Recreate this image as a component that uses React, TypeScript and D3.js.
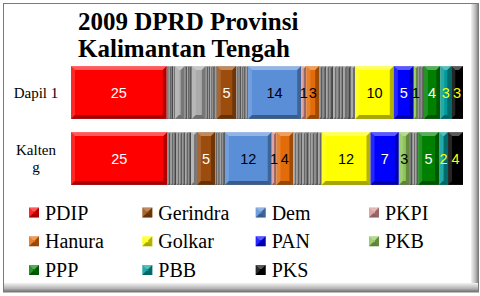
import React from "react";
import * as d3 from "d3";

const titleLines = ["2009 DPRD Provinsi", "Kalimantan Tengah"];
const categories = ["Dapil 1", "Kalteng"];
const categoryLabelLines = [["Dapil 1"], ["Kalten", "g"]];
const legendParties = ["PDIP", "Gerindra", "Dem", "PKPI", "Hanura", "Golkar", "PAN", "PKB", "PPP", "PBB", "PKS"];

// [party, vote share %]; "Lain" = other (unlabelled) parties
const dapil1: [string, number][] = [
  ["PDIP", 24.5],
  ["Lain", 0.5], ["Lain", 0.6], ["Lain", 0.5], ["Lain", 0.5], ["Lain", 2.5], ["Lain", 0.6], ["Lain", 0.5],
  ["Lain", 0.7], ["Lain", 3.6], ["Lain", 0.6], ["Lain", 0.5], ["Lain", 0.6], ["Lain", 0.6], ["Lain", 0.5],
  ["Gerindra", 5.0],
  ["Lain", 0.6], ["Lain", 0.6], ["Lain", 0.6], ["Lain", 0.6], ["Lain", 0.6],
  ["Dem", 13.6],
  ["PKPI", 1.3],
  ["Hanura", 3.3],
  ["Lain", 0.9], ["Lain", 0.9], ["Lain", 0.8], ["Lain", 1.0], ["Lain", 0.9], ["Lain", 0.9], ["Lain", 0.8],
  ["Lain", 0.9], ["Lain", 1.0], ["Lain", 1.1],
  ["Golkar", 9.9],
  ["PAN", 5.1],
  ["PKB", 1.1],
  ["Lain", 0.7], ["Lain", 0.8],
  ["PPP", 4.2],
  ["PBB", 2.8],
  ["PKS", 3.0],
];

const kalteng: [string, number][] = [
  ["PDIP", 24.5],
  ["Lain", 0.8], ["Lain", 0.7], ["Lain", 0.8], ["Lain", 0.7], ["Lain", 0.8], ["Lain", 0.7], ["Lain", 0.8],
  ["Lain", 0.7], ["Lain", 1.5],
  ["Gerindra", 4.6],
  ["Lain", 0.6], ["Lain", 0.6], ["Lain", 0.7], ["Lain", 0.6],
  ["Dem", 11.9],
  ["PKPI", 1.2],
  ["Hanura", 4.3],
  ["Lain", 0.8], ["Lain", 0.8], ["Lain", 0.7], ["Lain", 0.8], ["Lain", 0.8], ["Lain", 0.7], ["Lain", 0.8],
  ["Lain", 0.9], ["Lain", 0.9],
  ["Golkar", 12.4],
  ["PAN", 7.2],
  ["PKB", 2.8],
  ["Lain", 0.7], ["Lain", 0.7], ["Lain", 0.7],
  ["PPP", 5.3],
  ["PBB", 2.3],
  ["PKS", 3.8],
];

const rows = [dapil1, kalteng];

const partyColor: Record<string, string> = {
  PDIP: "#ff0000",
  Gerindra: "#9c4c0c",
  Dem: "#5a8ed6",
  PKPI: "#d99694",
  Hanura: "#e36c0a",
  Golkar: "#ffff00",
  PAN: "#0000ff",
  PKB: "#8fc65a",
  PPP: "#008000",
  PBB: "#009a9a",
  PKS: "#000000",
};
const labelColor: Record<string, string> = {
  PDIP: "#ffffff",
  Gerindra: "#ffffff",
  Dem: "#000000",
  PKPI: "#000000",
  Hanura: "#000000",
  Golkar: "#000000",
  PAN: "#ffffff",
  PKB: "#000000",
  PPP: "#ffffff",
  PBB: "#ffff00",
  PKS: "#ffff00",
};
const grayShades = ["#7a7a7a", "#939393", "#656565", "#9c9c9c", "#838383"];

const W = 480;
const H = 296;

function Bevel({ x, y, w, h, fill }: { x: number; y: number; w: number; h: number; fill: string }) {
  const b = Math.max(0, Math.min(4, w / 2, h / 2));
  const p = (pts: number[][]) => pts.map((q) => q.join(",")).join(" ");
  return (
    <g>
      <rect x={x} y={y} width={w} height={h} fill={fill} />
      <polygon points={p([[x, y], [x + w, y], [x + w - b, y + b], [x + b, y + b]])} fill="#fff" opacity={0.35} />
      <polygon points={p([[x, y], [x + b, y + b], [x + b, y + h - b], [x, y + h]])} fill="#fff" opacity={0.15} />
      <polygon points={p([[x + w, y], [x + w, y + h], [x + w - b, y + h - b], [x + w - b, y + b]])} fill="#000" opacity={0.3} />
      <polygon points={p([[x, y + h], [x + w, y + h], [x + w - b, y + h - b], [x + b, y + h - b]])} fill="#000" opacity={0.35} />
    </g>
  );
}

export default function App() {
  const y = d3.scaleBand<string>().domain(categories).range([59.5, 191.5]).paddingInner(0.2).paddingOuter(0.1);
  const x0 = 71;
  const x1 = 463;

  const serif = "'Liberation Serif', 'Times New Roman', serif";
  const sans = "'Liberation Sans', Arial, sans-serif";

  const legendX = d3.scalePoint<number>().domain([0, 1, 2, 3]).range([29, 369]);
  const legendY = d3.scalePoint<number>().domain([0, 1, 2]).range([212.5, 270]);

  return (
    <svg width={W} height={H} style={{ position: "absolute", left: 0, top: 0, display: "block", background: "#fff" }}>
      <defs>
        <linearGradient id="shR" x1="0" x2="1" y1="0" y2="0">
          <stop offset="0" stopColor="#f2f2f2" />
          <stop offset="0.6" stopColor="#b5b5b5" />
          <stop offset="1" stopColor="#6e6e6e" />
        </linearGradient>
        <linearGradient id="shB" x1="0" x2="0" y1="0" y2="1">
          <stop offset="0" stopColor="#f2f2f2" />
          <stop offset="0.6" stopColor="#b5b5b5" />
          <stop offset="1" stopColor="#6e6e6e" />
        </linearGradient>
      </defs>
      <rect x={0} y={0} width={W} height={H} fill="#fff" />
      {/* frame */}
      <rect x={471} y={4} width={8} height={288} fill="url(#shR)" />
      <rect x={4} y={283} width={475} height={9} fill="url(#shB)" />
      <rect x={3.5} y={3.5} width={475} height={288.5} fill="none" stroke="#7a7a7a" strokeWidth={1} />

      {/* title */}
      <text x={78} fontFamily={serif} fontWeight="bold" fontSize={25} fill="#000">
        {titleLines.map((t, i) => (
          <tspan key={i} x={78} y={30 + i * 27}>{t}</tspan>
        ))}
      </text>

      {/* bars */}
      {rows.map((row, ri) => {
        const cat = categories[ri];
        const total = d3.sum(row, (d) => d[1]);
        const xs = d3.scaleLinear().domain([0, total]).range([x0, x1]);
        const cum = d3.cumsum(row, (d) => d[1]);
        const by = y(cat) as number;
        const bh = y.bandwidth();
        let g = 0;
        return (
          <g key={cat}>
            {row.map(([party, v], i) => {
              const start = i === 0 ? 0 : cum[i - 1];
              const xa = xs(start);
              const xb = xs(start + v);
              let fill = partyColor[party];
              if (!fill) {
                fill = v >= 1.4 ? "#ababab" : grayShades[g % grayShades.length];
                g++;
              }
              return <Bevel key={i} x={xa} y={by} w={xb - xa} h={bh} fill={fill} />;
            })}
            {row.map(([party, v], i) => {
              if (!partyColor[party]) return null;
              const start = i === 0 ? 0 : cum[i - 1];
              const cx = (xs(start) + xs(start + v)) / 2;
              return (
                <text key={"l" + i} x={cx} y={by + bh / 2 + 5.5} textAnchor="middle" fontFamily={sans} fontSize={14.5} fill={labelColor[party]}>
                  {Math.round(v)}
                </text>
              );
            })}
            <text fontFamily={serif} fontSize={15} textAnchor="middle" fill="#000">
              {categoryLabelLines[ri].map((t, k) => {
                const n = categoryLabelLines[ri].length;
                return (
                  <tspan key={k} x={36} y={by + bh / 2 + 5 - ((n - 1) * 16.5) / 2 + k * 16.5}>{t}</tspan>
                );
              })}
            </text>
          </g>
        );
      })}

      {/* legend */}
      {legendParties.map((p, i) => {
        const col = i % 4;
        const r = Math.floor(i / 4);
        const lx = legendX(col) as number;
        const ly = legendY(r) as number;
        return (
          <g key={p}>
            <Bevel x={lx} y={ly - 5} w={10} h={10} fill={partyColor[p]} />
            <text x={lx + 16} y={ly + 7} fontFamily={serif} fontSize={20} fill="#000">{p}</text>
          </g>
        );
      })}
    </svg>
  );
}
